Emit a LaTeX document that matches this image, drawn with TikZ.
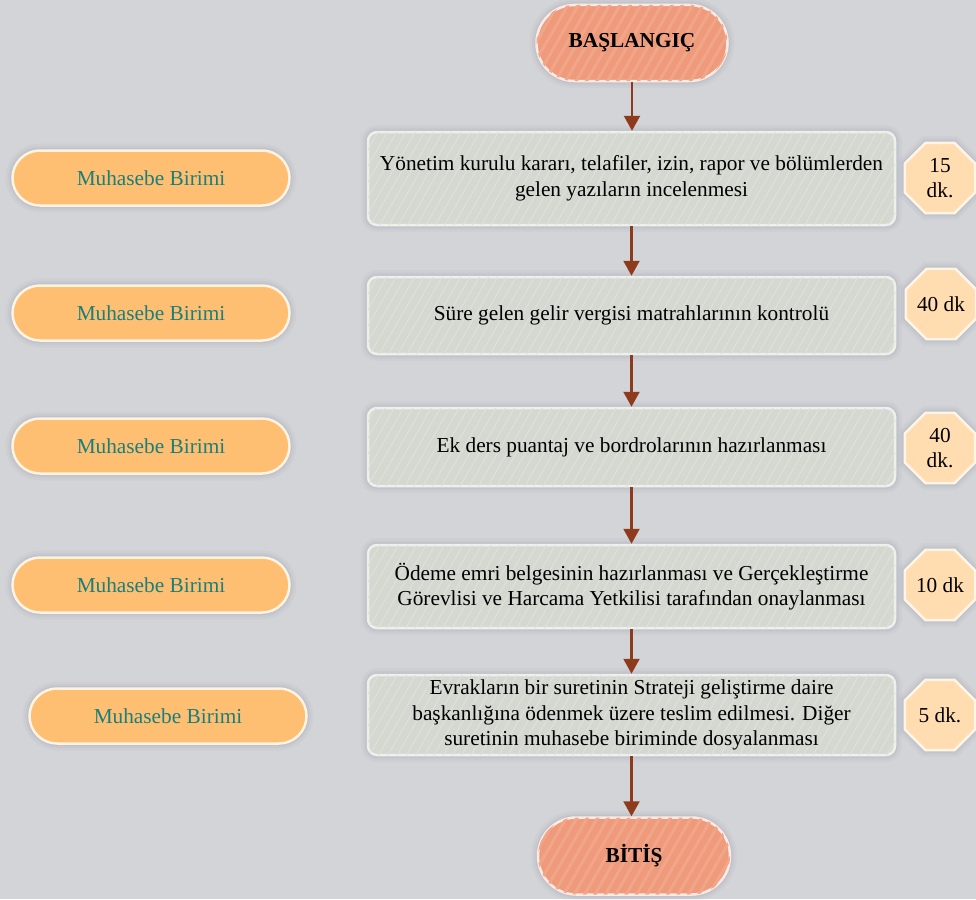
\documentclass[tikz,border=0pt]{standalone}
\usepackage{fontspec}
\setmainfont{Liberation Serif}
\usetikzlibrary{shapes.misc,shapes.geometric,patterns.meta,arrows.meta}
\definecolor{bgc}{HTML}{D3D4D7}
\definecolor{salmon}{HTML}{EE9A7B}
\definecolor{salmonstripe}{HTML}{F1A689}
\definecolor{boxc}{HTML}{D5D8D1}
\definecolor{boxstripe}{HTML}{DEE0DA}
\definecolor{boxborder}{HTML}{EEF0EC}
\definecolor{pillc}{HTML}{FFBF73}
\definecolor{pillborder}{HTML}{FFF3E2}
\definecolor{octc}{HTML}{FFDDB0}
\definecolor{tealc}{HTML}{1A7F7A}
\definecolor{arrowc}{HTML}{8E3B1D}
\definecolor{shadowc}{HTML}{7F8AA0}
\tikzset{
  glow/.style={preaction={draw=shadowc, line width=14pt, opacity=0.06},
               preaction={draw=shadowc, line width=9pt, opacity=0.08},
               preaction={draw=shadowc, line width=5pt, opacity=0.10}},
  txt/.style={font=\fontsize{21.3}{25.5}\selectfont, align=center, inner sep=0pt},
  terminal/.style={txt, glow, rounded rectangle, fill=salmon, draw=white!80!salmon, line width=2.5pt,
     postaction={pattern={Lines[angle=60,distance=9pt,line width=3pt]}, pattern color=salmonstripe},
     font=\fontsize{21.3}{25.5}\selectfont\bfseries},
  procbox/.style={txt, glow, rectangle, rounded corners=9pt, fill=boxc, draw=boxborder, line width=2.5pt,
     minimum width=527pt,
     postaction={pattern={Lines[angle=60,distance=8pt,line width=1pt]}, pattern color=boxstripe}},
  unit/.style={txt, glow, rounded rectangle, fill=pillc, draw=pillborder, line width=2.5pt,
     minimum width=277pt, minimum height=55pt, text=tealc},
  timebox/.style={txt, glow, regular polygon, regular polygon sides=8, minimum size=76pt,
     fill=octc, draw=white!70!octc, line width=2.5pt},
  flow/.style={draw=arrowc, line width=2.2pt, -{Triangle[width=16pt,length=15pt]}}
}
\begin{document}
\begin{tikzpicture}[x=1pt,y=-1pt]
\fill[bgc] (0,0) rectangle (976,899);
\useasboundingbox (0,0) rectangle (976,899);

\node[terminal, minimum width=191pt, minimum height=76pt] (start) at (632,43) {BAŞLANGIÇ};
\node[terminal, minimum width=192pt, minimum height=77pt] (end) at (634,856) {BİTİŞ};

\node[procbox, minimum height=93pt] (b1) at (631.5,178.5) {Yönetim kurulu kararı, telafiler, izin, rapor ve bölümlerden\\gelen yazıların incelenmesi};
\node[procbox, minimum height=77pt] (b2) at (631.5,315.5) {Süre gelen gelir vergisi matrahlarının kontrolü};
\node[procbox, minimum height=78pt] (b3) at (631.5,447) {Ek ders puantaj ve bordrolarının hazırlanması};
\node[procbox, minimum height=83pt] (b4) at (631.5,586.5) {Ödeme emri belgesinin hazırlanması ve Gerçekleştirme\\Görevlisi ve Harcama Yetkilisi tarafından onaylanması};
\node[procbox, minimum height=80pt] (b5) at (631.5,715) {Evrakların bir suretinin Strateji geliştirme daire\\başkanlığına ödenmek üzere teslim edilmesi. Diğer\\suretinin muhasebe biriminde dosyalanması};

\node[unit] (u1) at (151,178) {Muhasebe Birimi};
\node[unit] (u2) at (151,313) {Muhasebe Birimi};
\node[unit] (u3) at (151,446) {Muhasebe Birimi};
\node[unit] (u4) at (151,585) {Muhasebe Birimi};
\node[unit] (u5) at (168,716) {Muhasebe Birimi};

\node[timebox] (t1) at (940,178) {15\\dk.};
\node[timebox] (t2) at (941,304) {40 dk};
\node[timebox] (t3) at (940,448) {40\\dk.};
\node[timebox] (t4) at (940,585) {10 dk};
\node[timebox] (t5) at (940,715) {5 dk.};

\draw[flow] (start.south) -- (start.south |- b1.north);
\draw[flow] (b1.south) -- (b2.north);
\draw[flow] (b2.south) -- (b3.north);
\draw[flow] (b3.south) -- (b4.north);
\draw[flow] (b4.south) -- (b5.north);
\draw[flow] (b5.south) -- (b5.south |- end.north);
\end{tikzpicture}
\end{document}
